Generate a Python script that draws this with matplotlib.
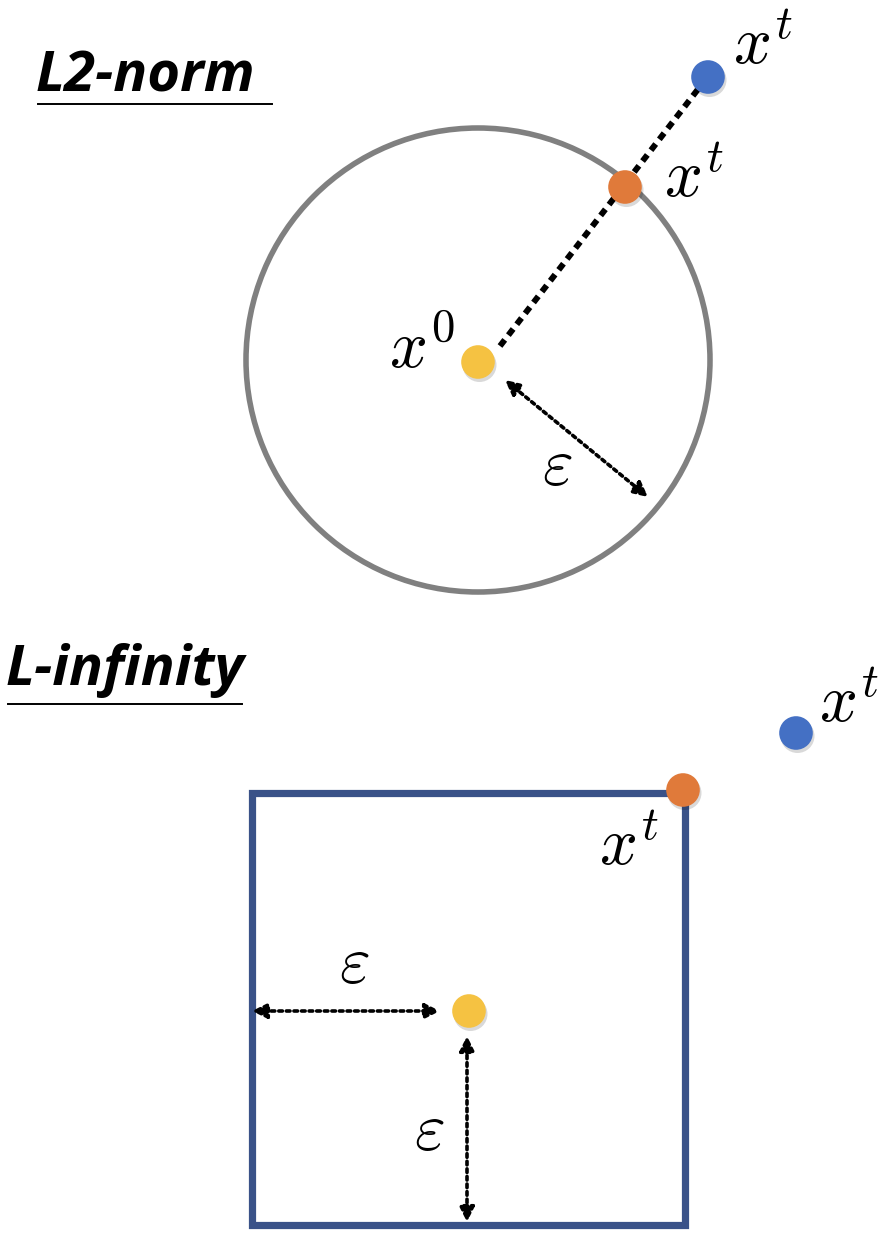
import matplotlib
matplotlib.use("Agg")
import matplotlib.pyplot as plt
from matplotlib.patches import Circle, Rectangle

plt.rcParams['mathtext.fontset'] = 'cm'

# ---- data (pixel-space layout of the diagram) ----
titles = ["L2-norm", "L-infinity"]
l2_center = [478, 360]
l2_radius = 232
l2_points = {"x0": [478, 362], "proj": [625, 187], "xt": [708, 77]}
linf_box = [252, 793, 685, 1225]  # left, top, right, bottom
linf_points = {"x0": [469, 1011], "proj": [683, 790], "xt": [796, 733]}
point_colors = {"x0": "#F5C242", "proj": "#E07A3A", "xt": "#4470C4"}

fig = plt.figure(figsize=(8.82, 12.36), dpi=100)
ax = fig.add_axes([0, 0, 1, 1])
ax.set_xlim(0, 882)
ax.set_ylim(1236, 0)
ax.set_aspect('equal')
ax.axis('off')

title_font = dict(family=["Open Sans", "DejaVu Sans"], weight='bold', style='italic', fontsize=40.5, color='black')
math_size = 48
eps_size = 48
arrow_kw = dict(arrowstyle='<|-|>', color='black', lw=2.6, ls=(0, (1, 1.1)),
                mutation_scale=22, shrinkA=0, shrinkB=0)

# ---- L2 panel ----
ax.text(36, 92, titles[0], ha='left', va='baseline', **title_font)
ax.plot([38, 272], [104, 104], color='black', lw=1.4)

ax.add_patch(Circle(l2_center, l2_radius, fill=False, ec='#808080', lw=4))

# dotted projection line
ax.plot([500, 702], [346, 84], color='black', lw=4.3, dashes=(1.3, 1.0), solid_capstyle='butt', dash_capstyle='butt', zorder=2)

def dot(p, c):
    ax.add_patch(Circle((p[0] + 1.5, p[1] + 3), 17, color='#000000', alpha=0.15, lw=0, zorder=4))
    ax.add_patch(Circle(p, 16.8, color=c, lw=0, zorder=5))

for k, p in l2_points.items():
    dot(p, point_colors[k])

ax.text(733, 64, r'$x^{t}$', fontsize=math_size, ha='left', va='baseline')
ax.text(664, 197, r'$x^{t}$', fontsize=math_size, ha='left', va='baseline')
ax.text(389, 368, r'$x^{0}$', fontsize=math_size, ha='left', va='baseline')

ax.annotate('', xy=(648, 497), xytext=(505, 380), arrowprops=arrow_kw)
ax.text(542, 485, r'$\varepsilon$', fontsize=eps_size, ha='left', va='baseline')

# ---- L-infinity panel ----
ax.text(6, 685, titles[1], ha='left', va='baseline', **title_font)
ax.plot([8, 242], [704, 704], color='black', lw=1.4)

l, t, r, b = linf_box
ax.add_patch(Rectangle((l, t), r - l, b - t, fill=False, ec='#3A5288', lw=5.2, joinstyle='miter'))

for k, p in linf_points.items():
    dot(p, point_colors[k])

ax.text(819, 722, r'$x^{t}$', fontsize=math_size, ha='left', va='baseline')
ax.text(599, 865, r'$x^{t}$', fontsize=math_size, ha='left', va='baseline')

ax.annotate('', xy=(440, 1011), xytext=(252, 1011), arrowprops=arrow_kw)
ax.text(339, 983, r'$\varepsilon$', fontsize=eps_size, ha='left', va='baseline')

ax.annotate('', xy=(467, 1036), xytext=(467, 1222), arrowprops=arrow_kw)
ax.text(414, 1150, r'$\varepsilon$', fontsize=eps_size, ha='left', va='baseline')

fig.savefig('out.png', dpi=100, facecolor='white')
